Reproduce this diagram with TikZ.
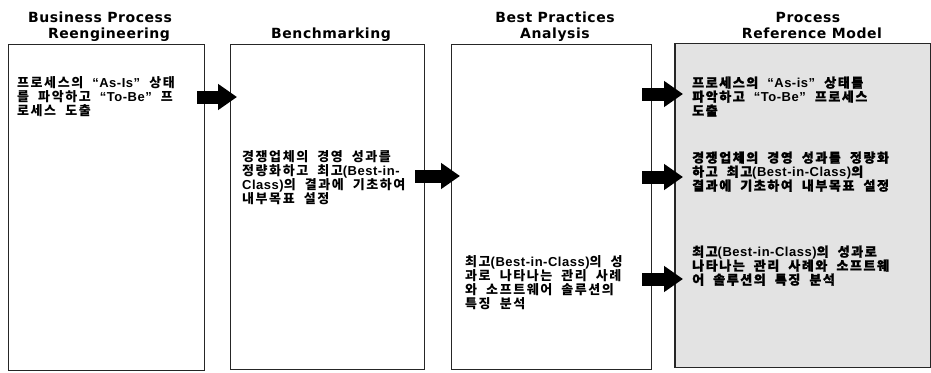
\documentclass[tikz,border=0pt]{standalone}
\usepackage{fontspec}
\setmainfont{DejaVu Sans}
\newfontfamily\krfont[LetterSpace=12,WordSpace=2]{Noto Sans CJK KR}
\newfontfamily\krheavy[LetterSpace=12,WordSpace=2,FakeBold=1.2]{Noto Sans CJK KR}
\newfontfamily\enfont[LetterSpace=4]{Liberation Sans}
\newfontfamily\hdfont[LetterSpace=4]{DejaVu Sans}
\usetikzlibrary{arrows.meta}
\newcommand\en[1]{{\enfont#1}}

\begin{document}
\begin{tikzpicture}[x=1pt,y=-1pt,
  stagebox/.style={draw=black!85, line width=0.9pt, anchor=north west, inner sep=0pt},
  refbox/.style={stagebox, fill=black!11},
  heading/.style={font=\hdfont\bfseries\fontsize{14}{16}\selectfont, anchor=base, inner sep=0pt},
  body/.style={font=\krfont\bfseries\fontsize{13}{14}\selectfont, align=left, anchor=base west, inner sep=0pt},
  refbody/.style={body, font=\krheavy\bfseries\fontsize{13}{14}\selectfont},
  blockarrow/.style={line width=13pt, -{Triangle[length=19pt,width=25pt]}, line cap=butt}
]
\useasboundingbox (0,0) rectangle (931,372);

% stage boxes
\node[stagebox, minimum width=196pt, minimum height=326pt] (b1) at (8,44) {};
\node[stagebox, minimum width=194pt, minimum height=325pt] (b2) at (230,44) {};
\node[stagebox, minimum width=200pt, minimum height=325pt] (b3) at (451,44) {};
\node[refbox, minimum width=255pt, minimum height=324pt] (b4) at (675,43) {};
\draw[line width=2pt, black!85] (b4.north west) -- (b4.south west);

% headings
\node[heading] (h1a) at (100,23) {Business Process};
\node[heading] (h1b) at (109,38) {Reengineering};
\node[heading] (h2)  at (331,38) {Benchmarking};
\node[heading] (h3a) at (555,23) {Best Practices};
\node[heading] (h3b) at (555,38) {Analysis};
\node[heading] (h4a) at (808,23) {Process};
\node[heading] (h4b) at (812,38) {Reference Model};

% stage descriptions (placed by the baseline of their last line)
\node[body] (t1) at (17,115.5) {프로세스의 \en{“As-Is”} 상태\\를 파악하고 \en{“To-Be”} 프\\로세스 도출};
\node[body] (t2) at (242,203.5) {경쟁업체의 경영 성과를\\정량화하고 최고\en{(Best-in-}\\\en{Class)}의 결과에 기초하여\\내부목표 설정};
\node[body] (t3) at (465,308.5) {최고\en{(Best-in-Class)}의 성\\과로 나타나는 관리 사례\\와 소프트웨어 솔루션의\\특징 분석};

% reference model contents
\node[refbody] (r1) at (692,115.5) {프로세스의 \en{“As-is”} 상태를\\파악하고 \en{“To-Be”} 프로세스\\도출};
\node[refbody] (r2) at (692,190.5) {경쟁업체의 경영 성과를 정량화\\하고 최고\en{(Best-in-Class)}의\\결과에 기초하여 내부목표 설정};
\node[refbody] (r3) at (692,284.5) {최고\en{(Best-in-Class)}의 성과로\\나타나는 관리 사례와 소프트웨\\어 솔루션의 특징 분석};

% block arrows
\coordinate (a1s) at (197,97);  \coordinate (a1e) at (237,97);
\coordinate (a2s) at (415,176); \coordinate (a2e) at (460,176);
\coordinate (a3s) at (642,94);  \coordinate (a3e) at (683,94);
\coordinate (a4s) at (642,177); \coordinate (a4e) at (683,177);
\coordinate (a5s) at (642,279); \coordinate (a5e) at (683,279);
\draw[blockarrow] (a1s) -- (a1e);
\draw[blockarrow] (a2s) -- (a2e);
\draw[blockarrow] (a3s) -- (a3e);
\draw[blockarrow] (a4s) -- (a4e);
\draw[blockarrow] (a5s) -- (a5e);
\end{tikzpicture}
\end{document}
